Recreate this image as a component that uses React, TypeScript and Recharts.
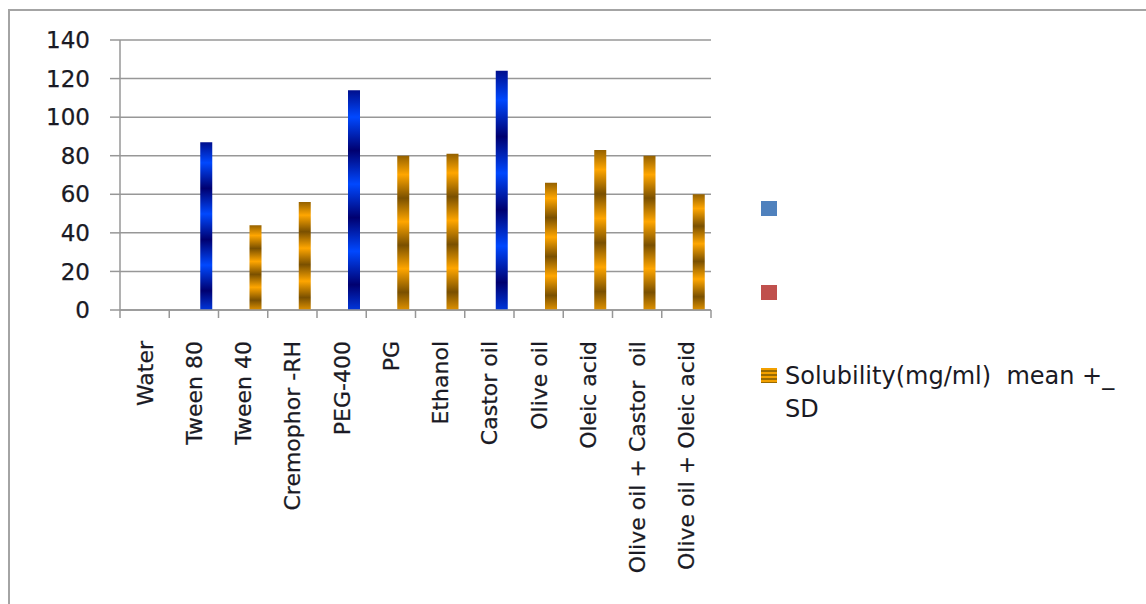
import React from "react";
import { BarChart, Bar, XAxis, YAxis, CartesianGrid, Legend, Cell } from "recharts";

// datos (mg/ml)
const categorias = [
  "Water", "Tween 80", "Tween 40", "Cremophor -RH", "PEG-400", "PG",
  "Ethanol", "Castor oil", "Olive oil", "Oleic acid",
  "Olive oil + Castor  oil", "Olive oil + Oleic acid",
];
const solubilidad = [null, 87, 44, 56, 114, 80, 81, 124, 66, 83, 80, 60];
const barrasAzules = ["Tween 80", "PEG-400", "Castor oil"];
const ticksY = [0, 20, 40, 60, 80, 100, 120, 140];

const SERIE_1 = "";
const SERIE_2 = " ";
const SERIE_3 = "Solubility(mg/ml)  mean +_ SD";

const FONT = "'DejaVu Sans', sans-serif";
const GRIS = "#979797";
const TEXTO = "#1a1a24";

const data = categorias.map((c, i) => ({ name: c, sol: solubilidad[i] }));

function TickCategoria(props: any) {
  const { x, y, payload, index } = props;
  const half = payload?.offset ?? 0;
  const ejeY = y - 31;
  const ultimo = index === categorias.length - 1;
  return (
    <g>
      <line x1={x - half} y1={ejeY} x2={x - half} y2={ejeY + 8} stroke={GRIS} strokeWidth={1.5} />
      {ultimo && (
        <line x1={x + half} y1={ejeY} x2={x + half} y2={ejeY + 8} stroke={GRIS} strokeWidth={1.5} />
      )}
      <text
        x={x + 8}
        y={y}
        transform={`rotate(-90 ${x + 8} ${y})`}
        textAnchor="end"
        fontSize={22}
        fill={TEXTO}
        stroke={TEXTO}
        strokeWidth={0.25}
        fontFamily={FONT}
        style={{ whiteSpace: "pre" }}
      >
        {payload.value}
      </text>
    </g>
  );
}

function LeyendaCustom(props: any) {
  const items = props.payload ?? [];
  return (
    <div style={{ fontFamily: FONT, fontSize: 24, color: TEXTO }}>
      {items.map((it: any, i: number) => {
        const esUltimo = i === items.length - 1;
        return (
          <div key={i} style={{ display: "flex", alignItems: "flex-start", height: 83.5 }}>
            <div
              style={{
                width: 16, height: 15, flex: "0 0 16px",
                background: esUltimo
                  ? "repeating-linear-gradient(to bottom, #f2a000 0px, #f2a000 2px, #9a6a00 2px, #9a6a00 4px)"
                  : it.color,
              }}
            />
            {esUltimo && (
              <div style={{ marginLeft: 8, marginTop: -8, width: 345, lineHeight: "33px", whiteSpace: "pre-wrap" }}>
                {it.value}
              </div>
            )}
          </div>
        );
      })}
    </div>
  );
}

export default function App() {
  return (
    <div style={{ position: "absolute", left: 0, top: 0, width: 1146, height: 604, background: "#fff", fontFamily: FONT }}>
      {/* marco del gráfico: solo se ven borde superior e izquierdo */}
      <div style={{ position: "absolute", left: 8, top: 9, right: 0, bottom: 0, borderTop: "2px solid #a4a4a4", borderLeft: "2px solid #a4a4a4" }} />
      <BarChart
        width={1146}
        height={604}
        data={data}
        margin={{ top: 40, right: 435, bottom: 0, left: 0 }}
        barGap={0}
        barSize={12}
      >
        <defs>
          <linearGradient id="bandaAzul" x1="0" y1="-0.03" x2="0" y2="0.275" spreadMethod="repeat">
            <stop offset="0" stopColor="#000070" />
            <stop offset="0.5" stopColor="#0048ff" />
            <stop offset="1" stopColor="#000070" />
          </linearGradient>
          <linearGradient id="bandaNaranja" x1="0" y1="-0.03" x2="0" y2="0.275" spreadMethod="repeat">
            <stop offset="0" stopColor="#7a5000" />
            <stop offset="0.5" stopColor="#ffa600" />
            <stop offset="1" stopColor="#7a5000" />
          </linearGradient>
        </defs>
        <CartesianGrid vertical={false} stroke={GRIS} strokeWidth={1.5} />
        <XAxis
          dataKey="name"
          interval={0}
          height={294}
          tickLine={false}
          tickSize={8}
          tickMargin={23}
          axisLine={{ stroke: GRIS, strokeWidth: 1.5 }}
          tick={<TickCategoria />}
        />
        <YAxis
          width={120}
          domain={[0, 140]}
          ticks={ticksY}
          interval={0}
          tickSize={10}
          tickMargin={20}
          tickLine={{ stroke: GRIS, strokeWidth: 1.5 }}
          axisLine={{ stroke: GRIS, strokeWidth: 1.5 }}
          tick={{ fontSize: 23, fill: TEXTO, stroke: TEXTO, strokeWidth: 0.25, fontFamily: FONT }}
        />
        <Legend
          layout="vertical"
          align="center"
          verticalAlign="middle"
          wrapperStyle={{ left: 761, top: 201, width: 385 }}
          content={<LeyendaCustom />}
        />
        <Bar dataKey="s1" name={SERIE_1} fill="#4f81bd" isAnimationActive={false} />
        <Bar dataKey="s2" name={SERIE_2} fill="#c0504d" isAnimationActive={false} />
        <Bar dataKey="sol" name={SERIE_3} fill="#f2a000" isAnimationActive={false}>
          {data.map((d, i) => (
            <Cell key={i} fill={barrasAzules.includes(d.name) ? "url(#bandaAzul)" : "url(#bandaNaranja)"} />
          ))}
        </Bar>
      </BarChart>
    </div>
  );
}
